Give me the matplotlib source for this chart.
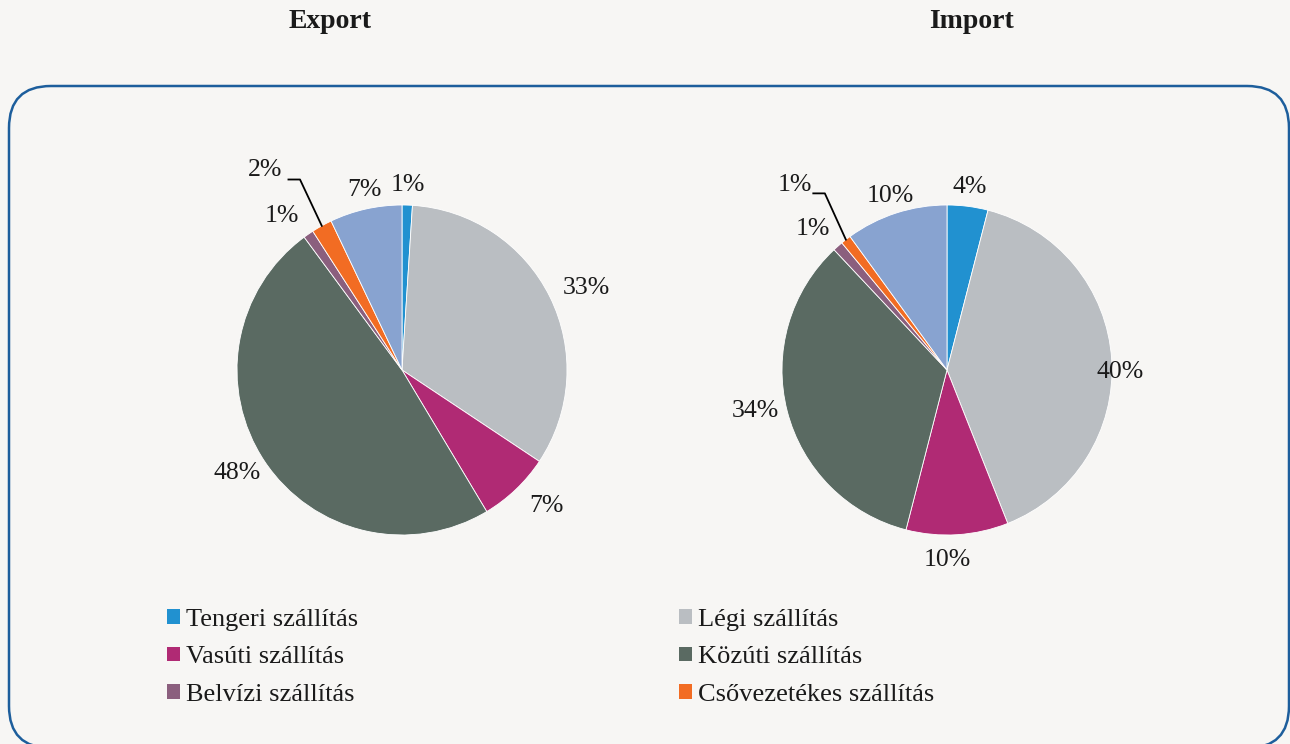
import numpy as np
import matplotlib
matplotlib.use("Agg")
import matplotlib.pyplot as plt
from matplotlib.patches import FancyBboxPatch, Patch

plt.rcParams['font.family'] = ['Liberation Serif', 'DejaVu Serif']

# data
categories = ["Tengeri szállítás", "Légi szállítás", "Vasúti szállítás",
              "Közúti szállítás", "Belvízi szállítás", "Csővezetékes szállítás", "Egyéb"]
export_vals = [1, 33, 7, 48, 1, 2, 7]
import_vals = [4, 40, 10, 34, 1, 1, 10]
export_labels = ["1%", "33%", "7%", "48%", "1%", "2%", "7%"]
import_labels = ["4%", "40%", "10%", "34%", "1%", "1%", "10%"]

colors = ["#2191d0", "#babec2", "#b02a74", "#5a6a62", "#8b5f7e", "#f26c23", "#88a3d0"]
bg = "#f7f6f4"

W, H = 1290, 744
fig = plt.figure(figsize=(W / 100, H / 100), dpi=100, facecolor=bg)

# rounded frame, drawn on a full-figure axes in pixel units (y up)
bg_ax = fig.add_axes([0, 0, 1, 1])
bg_ax.set_xlim(0, W)
bg_ax.set_ylim(0, H)
bg_ax.axis("off")
frame = FancyBboxPatch((9, -4), 1280, 662,
                       boxstyle="round,pad=0,rounding_size=42",
                       facecolor="none", edgecolor="#1d5e9c", linewidth=1.8,
                       clip_on=False)
bg_ax.add_patch(frame)

R = 165  # pie radius in px
FS = 18.5


def make_pie(cx, cy, vals, labels, dist, nudge, leader, lead_off):
    half = 200
    ax = fig.add_axes([(cx - half) / W, (H - cy - half) / H, 2 * half / W, 2 * half / H])
    ax.axis("off")
    wedges, _ = ax.pie(vals, colors=colors, startangle=90, counterclock=False,
                       wedgeprops=dict(edgecolor="white", linewidth=0.6), radius=1)
    ax.set_xlim(-half / R, half / R)
    ax.set_ylim(-half / R, half / R)
    for i, w in enumerate(wedges):
        ang = np.deg2rad((w.theta1 + w.theta2) / 2 + nudge[i])
        x, y = dist[i] * np.cos(ang), dist[i] * np.sin(ang)
        ax.text(x, y, labels[i], ha="center", va="center", fontsize=FS, color="#1a1a1a")
        if i == leader:
            a0 = np.deg2rad((w.theta1 + w.theta2) / 2)
            ex, ey = np.cos(a0), np.sin(a0)
            x1, x2, dy = lead_off
            ax.plot([x + x1, x + x2, ex], [y + dy, y + dy, ey],
                    color="black", lw=1.3, clip_on=False)
    return ax


make_pie(402, 370, export_vals, export_labels,
         [1.12, 1.22, 1.2, 1.18, 1.18, 1.47, 1.115],
         [0, -2.4, 3, -1.7, 3.4, 5.2, -1], leader=5, lead_off=(0.14, 0.21, -0.06))
make_pie(947, 370, import_vals, import_labels,
         [1.12, 1.05, 1.15, 1.19, 1.18, 1.45, 1.11],
         [0, -4.3, -3.4, -2.4, 2.1, 1.6, 0], leader=5, lead_off=(0.11, 0.18, -0.05))

fig.text(330 / W, 1 - 22 / H, "Export", ha="center", va="center",
         fontsize=20, fontweight="bold", color="#1a1a1a")
fig.text(972 / W, 1 - 22 / H, "Import", ha="center", va="center",
         fontsize=20, fontweight="bold", color="#1a1a1a")

handles = [Patch(facecolor=c, edgecolor="none") for c in colors[:6]]
col1 = [0, 2, 4]
col2 = [1, 3, 5]
leg_kw = dict(frameon=False, fontsize=19, handlelength=0.48, handleheight=0.48,
              handletextpad=0.25, labelspacing=0.58, borderpad=0, borderaxespad=0,
              labelcolor="#1a1a1a")
leg1 = fig.legend([handles[i] for i in col1], [categories[i] for i in col1],
                  loc="upper left", bbox_to_anchor=(167 / W, 1 - 609 / H), **leg_kw)
leg2 = fig.legend([handles[i] for i in col2], [categories[i] for i in col2],
                  loc="upper left", bbox_to_anchor=(679 / W, 1 - 609 / H), **leg_kw)

fig.savefig("out.png", dpi=100, facecolor=bg)
